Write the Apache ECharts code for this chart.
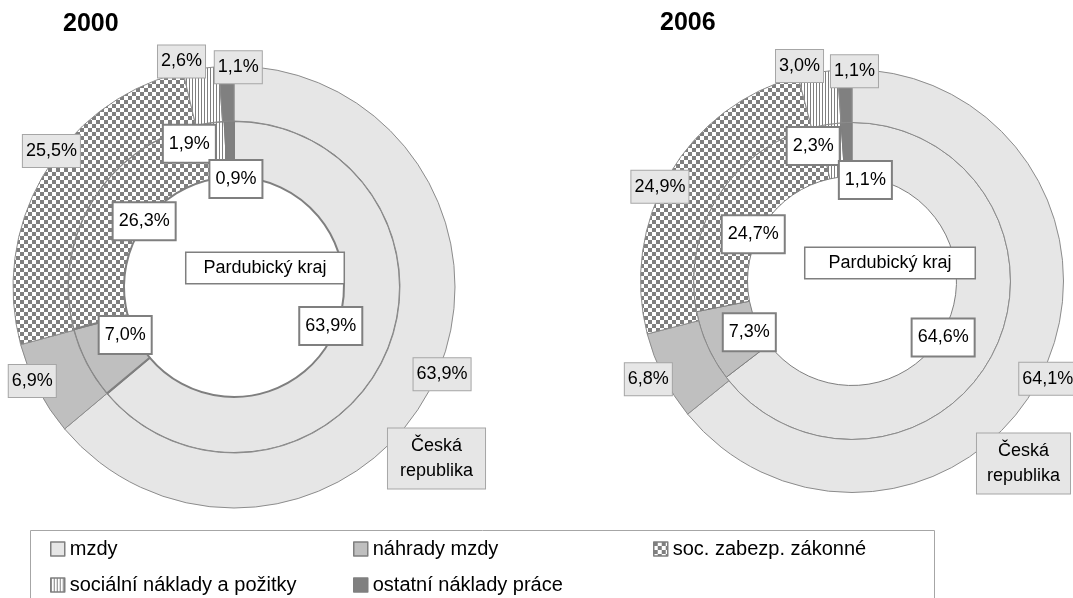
<!DOCTYPE html>
<html><head><meta charset="utf-8">
<script src="https://cdn.jsdelivr.net/npm/echarts@6/dist/echarts.min.js"></script>
<style>html,body{margin:0;padding:0;background:#fff}#c{width:1073px;height:598px}</style>
</head><body><div id="c"></div>
<script>
// ---- data ----
const categories = ['mzdy', 'náhrady mzdy', 'soc. zabezp. zákonné', 'sociální náklady a požitky', 'ostatní náklady práce'];
const years = ['2000', '2006'];
const regionNames = ['Pardubický kraj', 'Česká\nrepublika'];
const pk2000 = [63.9, 7.0, 26.3, 1.9, 0.9];
const cr2000 = [63.9, 6.9, 25.5, 2.6, 1.1];
const pk2006 = [64.6, 7.3, 24.7, 2.3, 1.1];
const cr2006 = [64.1, 6.8, 24.9, 3.0, 1.1];

// ---- styles ----
const FONT = "'Liberation Sans', Arial, sans-serif";
function checker() {
  const c = document.createElement('canvas'); c.width = 8; c.height = 8;
  const g = c.getContext('2d');
  g.fillStyle = '#ffffff'; g.fillRect(0, 0, 8, 8);
  g.fillStyle = '#7f7f7f'; g.fillRect(0, 0, 4, 4); g.fillRect(4, 4, 4, 4);
  return { image: c, repeat: 'repeat' };
}
function stripes() {
  const c = document.createElement('canvas'); c.width = 3; c.height = 3;
  const g = c.getContext('2d');
  g.fillStyle = '#ffffff'; g.fillRect(0, 0, 3, 3);
  g.fillStyle = '#7f7f7f'; g.fillRect(0, 0, 1, 3);
  return { image: c, repeat: 'repeat' };
}
const colors = ['#e6e6e6', '#bfbfbf', checker(), stripes(), '#808080'];
const fmt = p => p.value.toFixed(1).replace('.', ',') + '%';

// label nudges (style offsets, px)
const nudgeL_in  = [[-2, -7], [-12, -2], [2, -7], [-32, -35], [5, 1]];
const nudgeL_out = [[6, -7], [-4, -9], [9, -22], [-19, -5], [12, 3]];
const nudgeR_in  = [[-3, 10], [-7, 8], [-11, 11], [-24, -31], [17, 4]];
const nudgeR_out = [[-1, 4], [-9, 0], [-4, 16], [-17, 0], [10, 8]];

function ring(center, radius, vals, bw, bc) {
  return {
    type: 'pie', center: center, radius: radius, startAngle: 90, clockwise: true,
    data: vals.map((v, i) => ({ name: categories[i], value: v, itemStyle: { color: colors[i] } })),
    label: { show: false }, labelLine: { show: false },
    itemStyle: { borderColor: bc, borderWidth: bw },
    emphasis: { disabled: true }, silent: true, animation: false, z: 2
  };
}
function labels(center, r, vals, inner, nudge) {
  return {
    type: 'pie', center: center, radius: [0, 2 * r], startAngle: 90, clockwise: true,
    data: vals.map((v, i) => ({ name: categories[i], value: v })),
    itemStyle: { color: 'rgba(0,0,0,0)', borderWidth: 0 },
    label: {
      show: true, position: 'inside', formatter: fmt, color: '#000', fontSize: 18, fontFamily: FONT,
      backgroundColor: inner ? '#ffffff' : '#e6e6e6',
      borderColor: inner ? '#7f7f7f' : '#a6a6a6',
      borderWidth: inner ? 2 : 1,
      padding: inner ? [9, 5, 9, 5] : [7, 3, 7, 3]
    },
    labelLine: { show: false },
    labelLayout: p => ({ dx: nudge[p.dataIndex][0], dy: nudge[p.dataIndex][1] }),
    emphasis: { disabled: true }, silent: true, animation: false, z: 5
  };
}

const CL = [234, 287], CR = [852, 281];
const legendBase = {
  orient: 'vertical', top: 539, itemWidth: 14, itemHeight: 14, itemGap: 16, icon: 'rect',
  itemStyle: { borderColor: '#7f7f7f', borderWidth: 1.5 },
  textStyle: { fontSize: 20, color: '#000', fontFamily: FONT }, padding: 0, selectedMode: false
};

const option = {
  backgroundColor: '#fff',
  animation: false,
  title: [
    { text: years[0], left: 63, top: 12, padding: 0, textStyle: { fontSize: 25, fontWeight: 'bold', color: '#000', fontFamily: FONT } },
    { text: years[1], left: 660, top: 11, padding: 0, textStyle: { fontSize: 25, fontWeight: 'bold', color: '#000', fontFamily: FONT } }
  ],
  legend: [
    Object.assign({}, legendBase, { left: 50, data: [categories[0], categories[3]] }),
    Object.assign({}, legendBase, { left: 353, data: [categories[1], categories[4]] }),
    Object.assign({}, legendBase, { left: 653, data: [categories[2]] })
  ],
  graphic: [
    { type: 'rect', shape: { x: 30.5, y: 530.5, width: 904, height: 100 }, style: { fill: 'none', stroke: '#a6a6a6', lineWidth: 1 }, silent: true },
    { type: 'text', x: 265, y: 268, z: 10, style: { text: regionNames[0], align: 'center', verticalAlign: 'middle', font: '18px ' + FONT, fill: '#000', backgroundColor: '#fff', borderColor: '#7f7f7f', borderWidth: 1.5, padding: [5, 17, 5, 17], lineHeight: 20 } },
    { type: 'text', x: 890, y: 263, z: 10, style: { text: regionNames[0], align: 'center', verticalAlign: 'middle', font: '18px ' + FONT, fill: '#000', backgroundColor: '#fff', borderColor: '#7f7f7f', borderWidth: 1.5, padding: [5, 23, 5, 23], lineHeight: 20 } },
    { type: 'text', x: 436.5, y: 458.5, z: 10, style: { text: regionNames[1], align: 'center', verticalAlign: 'middle', font: '18px ' + FONT, fill: '#000', backgroundColor: '#e6e6e6', borderColor: '#a6a6a6', borderWidth: 1, padding: [5, 12, 5, 12], lineHeight: 25 } },
    { type: 'text', x: 1023.5, y: 463.5, z: 10, style: { text: regionNames[1], align: 'center', verticalAlign: 'middle', font: '18px ' + FONT, fill: '#000', backgroundColor: '#e6e6e6', borderColor: '#a6a6a6', borderWidth: 1, padding: [5, 10, 5, 10], lineHeight: 25 } }
  ],
  series: [
    ring(CL, [110, 166], pk2000, 2, '#7f7f7f'),
    ring(CL, [166, 221], cr2000, 1, '#8c8c8c'),
    ring(CR, [104.5, 158.5], pk2006, 1, '#7f7f7f'),
    ring(CR, [158.5, 211.5], cr2006, 1, '#8c8c8c'),
    labels(CL, 106, pk2000, true, nudgeL_in),
    labels(CL, 220, cr2000, false, nudgeL_out),
    labels(CR, 102, pk2006, true, nudgeR_in),
    labels(CR, 215, cr2006, false, nudgeR_out)
  ]
};
const chart = echarts.init(document.getElementById('c'), null, { renderer: 'canvas' });
chart.setOption(option);
</script>
</body></html>
